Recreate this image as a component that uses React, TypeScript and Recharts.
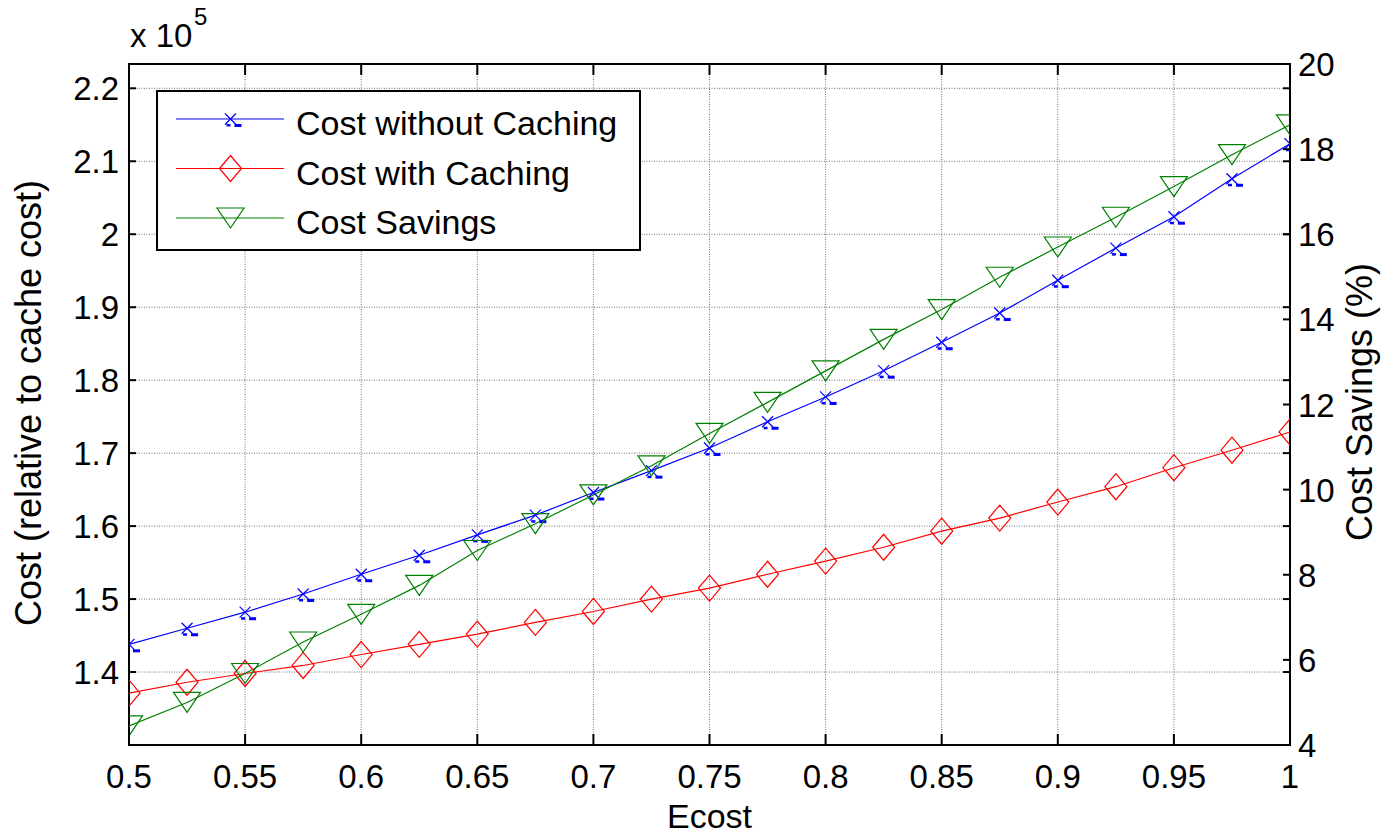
import React from 'react';
import { LineChart, Line, XAxis, YAxis, CartesianGrid, Legend, ReferenceArea, Label } from 'recharts';

// Ecost values on the x axis
const ecost = [0.5, 0.525, 0.55, 0.575, 0.6, 0.625, 0.65, 0.675, 0.7, 0.725, 0.75, 0.775, 0.8, 0.825, 0.85, 0.875, 0.9, 0.925, 0.95, 0.975, 1.0];

// cost, in units of 10^5 (left axis)
const costWithoutCaching = [1.438, 1.460, 1.482, 1.507, 1.534, 1.560, 1.588, 1.615, 1.646, 1.676, 1.707, 1.743, 1.777, 1.813, 1.852, 1.892, 1.937, 1.981, 2.024, 2.076, 2.124];
const costWithCaching = [1.371, 1.386, 1.398, 1.409, 1.424, 1.438, 1.452, 1.468, 1.483, 1.500, 1.515, 1.534, 1.552, 1.571, 1.593, 1.611, 1.633, 1.654, 1.680, 1.704, 1.729];

// savings in % (right axis)
const costSavings = [4.45, 5.0, 5.68, 6.42, 7.07, 7.75, 8.57, 9.2, 9.875, 10.56, 11.32, 12.05, 12.79, 13.53, 14.23, 14.99, 15.70, 16.40, 17.12, 17.87, 18.57];

const xTicks = [0.5, 0.55, 0.6, 0.65, 0.7, 0.75, 0.8, 0.85, 0.9, 0.95, 1];
const costTicks = [1.4, 1.5, 1.6, 1.7, 1.8, 1.9, 2, 2.1, 2.2];
const savingsTicks = [4, 6, 8, 10, 12, 14, 16, 18, 20];

const data = ecost.map((e, i) => ({
  ecost: e,
  noCache: costWithoutCaching[i],
  withCache: costWithCaching[i],
  savings: costSavings[i],
}));

const W = 1383;
const H = 836;
const PLOT_LEFT = 129;
const PLOT_RIGHT = 1290;
const PLOT_TOP = 64;
const PLOT_BOTTOM = 745;
const FONT = '"Liberation Sans", Arial, Helvetica, sans-serif';

const BLUE = '#0000ff';
const RED = '#ff0000';
const GREEN = '#008000';

// markers
const crossMark = (cx: number, cy: number, key?: string) => (
  <g key={key}>
    <line x1={cx - 5.5} y1={cy - 5.5} x2={cx + 5.5} y2={cy + 5.5} stroke={BLUE} strokeWidth={1.2} />
    <line x1={cx - 5.5} y1={cy + 5.5} x2={cx + 5.5} y2={cy - 5.5} stroke={BLUE} strokeWidth={1.2} />
    <rect x={cx - 4} y={cy + 5} width={4} height={2.5} fill={BLUE} />
    <rect x={cx + 4} y={cy + 5} width={7} height={3} fill={BLUE} />
  </g>
);

const diamondMark = (cx: number, cy: number, key?: string) => (
  <polygon key={key} points={`${cx},${cy - 13} ${cx + 11},${cy} ${cx},${cy + 13} ${cx - 11},${cy}`} fill="none" stroke={RED} strokeWidth={1.2} />
);

const triangleMark = (cx: number, cy: number, key?: string) => (
  <polygon key={key} points={`${cx - 13.5},${cy - 10} ${cx + 13.5},${cy - 10} ${cx},${cy + 10}`} fill="none" stroke={GREEN} strokeWidth={1.2} />
);

const XTick = (props: any) => {
  const { x, payload } = props;
  return (
    <g>
      <line x1={x} x2={x} y1={PLOT_BOTTOM} y2={PLOT_BOTTOM - 11} stroke="#000" strokeWidth={2} />
      <line x1={x} x2={x} y1={PLOT_TOP} y2={PLOT_TOP + 11} stroke="#000" strokeWidth={2} />
      <text x={x} y={PLOT_BOTTOM + 43} textAnchor="middle" fontSize={33} fontFamily={FONT} fill="#000">
        {String(payload.value)}
      </text>
    </g>
  );
};

const LeftTick = (props: any) => {
  const { y, payload } = props;
  return (
    <g>
      <line x1={PLOT_LEFT} x2={PLOT_LEFT + 7} y1={y} y2={y} stroke="#000" strokeWidth={2} />
      <line x1={PLOT_RIGHT - 7} x2={PLOT_RIGHT} y1={y} y2={y} stroke="#000" strokeWidth={2} />
      <text x={PLOT_LEFT - 10} y={y + 12} textAnchor="end" fontSize={33} fontFamily={FONT} fill="#000">
        {String(payload.value)}
      </text>
    </g>
  );
};

const RightTick = (props: any) => {
  const { y, payload } = props;
  return (
    <g>
      <line x1={PLOT_RIGHT - 7} x2={PLOT_RIGHT} y1={y} y2={y} stroke="#000" strokeWidth={2} />
      <text x={PLOT_RIGHT + 8} y={y + 12} textAnchor="start" fontSize={33} fontFamily={FONT} fill="#000">
        {String(payload.value)}
      </text>
    </g>
  );
};

const legendOrder = ['noCache', 'withCache', 'savings'];

const LegendBox = (props: any) => {
  const { payload = [] } = props;
  const marks: Record<string, (cx: number, cy: number) => React.ReactElement> = {
    noCache: crossMark,
    withCache: diamondMark,
    savings: triangleMark,
  };
  const items = [...payload].sort(
    (a: any, b: any) => legendOrder.indexOf(a.dataKey) - legendOrder.indexOf(b.dataKey)
  );
  return (
    <svg width={485} height={161} style={{ display: 'block' }}>
      <rect x={1} y={1} width={483} height={159} fill="#fff" stroke="#000" strokeWidth={2} />
      {items.map((entry: any, i: number) => {
        const rowY = 29 + i * 49.5;
        const mark = marks[entry.dataKey as string];
        return (
          <g key={entry.value}>
            <line x1={20} x2={128} y1={rowY} y2={rowY} stroke={entry.color} strokeWidth={1.2} />
            {mark ? mark(74.5, rowY) : null}
            <text x={140} y={rowY + 16} fontSize={34} fontFamily={FONT} fill="#000">
              {entry.value}
            </text>
          </g>
        );
      })}
    </svg>
  );
};

const CostChart: React.FC = () => {
  return (
    <div style={{ position: 'absolute', left: 0, top: 0, width: W, height: H, background: '#fff', fontFamily: FONT }}>
      <LineChart width={W} height={H} data={data} margin={{ top: PLOT_TOP, right: 0, bottom: 0, left: 0 }}>
        <CartesianGrid yAxisId="left" stroke="#707070" strokeDasharray="1 1.5" strokeWidth={1} />
        <XAxis
          dataKey="ecost"
          type="number"
          domain={[0.5, 1]}
          ticks={xTicks}
          interval={0}
          height={H - PLOT_BOTTOM}
          tickSize={0}
          tickMargin={0}
          axisLine={false}
          tick={<XTick />}
          allowDataOverflow
        >
          <Label
            content={() => (
              <text x={(PLOT_LEFT + PLOT_RIGHT) / 2} y={828} textAnchor="middle" fontSize={34} fontFamily={FONT} fill="#000">
                Ecost
              </text>
            )}
          />
        </XAxis>
        <YAxis
          yAxisId="left"
          width={PLOT_LEFT}
          domain={[1.3, 2.2333]}
          ticks={costTicks}
          interval={0}
          tickSize={0}
          tickMargin={0}
          axisLine={false}
          tick={<LeftTick />}
          allowDataOverflow
        >
          <Label
            content={() => (
              <g>
                <text x={41} y={403} transform="rotate(-90 41 403)" textAnchor="middle" fontSize={36} fontFamily={FONT} fill="#000">
                  Cost (relative to cache cost)
                </text>
                <text x={130} y={47} fontSize={33} fontFamily={FONT} fill="#000">
                  x 10
                </text>
                <text x={194} y={25} fontSize={24} fontFamily={FONT} fill="#000">
                  5
                </text>
              </g>
            )}
          />
        </YAxis>
        <YAxis
          yAxisId="right"
          orientation="right"
          width={W - PLOT_RIGHT}
          domain={[4, 20]}
          ticks={savingsTicks}
          interval={0}
          tickSize={0}
          tickMargin={0}
          axisLine={false}
          tick={<RightTick />}
          allowDataOverflow
        >
          <Label
            content={() => (
              <text x={1372} y={402} transform="rotate(-90 1372 402)" textAnchor="middle" fontSize={36} fontFamily={FONT} fill="#000">
                Cost Savings (%)
              </text>
            )}
          />
        </YAxis>
        <ReferenceArea
          yAxisId="left"
          x1={0.5}
          x2={1}
          y1={1.3}
          y2={2.2333}
          fill="none"
          stroke="#000"
          strokeWidth={2}
          ifOverflow="visible"
        />
        <Line
          yAxisId="left"
          type="linear"
          dataKey="noCache"
          name="Cost without Caching"
          stroke={BLUE}
          strokeWidth={1.2}
          dot={(p: any) => crossMark(p.cx, p.cy, `x-${p.index}`)}
          activeDot={false}
          isAnimationActive={false}
        />
        <Line
          yAxisId="left"
          type="linear"
          dataKey="withCache"
          name="Cost with Caching"
          stroke={RED}
          strokeWidth={1.2}
          dot={(p: any) => diamondMark(p.cx, p.cy, `d-${p.index}`)}
          activeDot={false}
          isAnimationActive={false}
        />
        <Line
          yAxisId="right"
          type="linear"
          dataKey="savings"
          name="Cost Savings"
          stroke={GREEN}
          strokeWidth={1.2}
          dot={(p: any) => triangleMark(p.cx, p.cy, `t-${p.index}`)}
          activeDot={false}
          isAnimationActive={false}
        />
        <Legend
          layout="vertical"
          align="center"
          verticalAlign="middle"
          content={<LegendBox />}
          wrapperStyle={{ position: 'absolute', left: 156, top: 90, width: 485, height: 161 }}
        />
      </LineChart>
    </div>
  );
};

export default function App() {
  return <CostChart />;
}
